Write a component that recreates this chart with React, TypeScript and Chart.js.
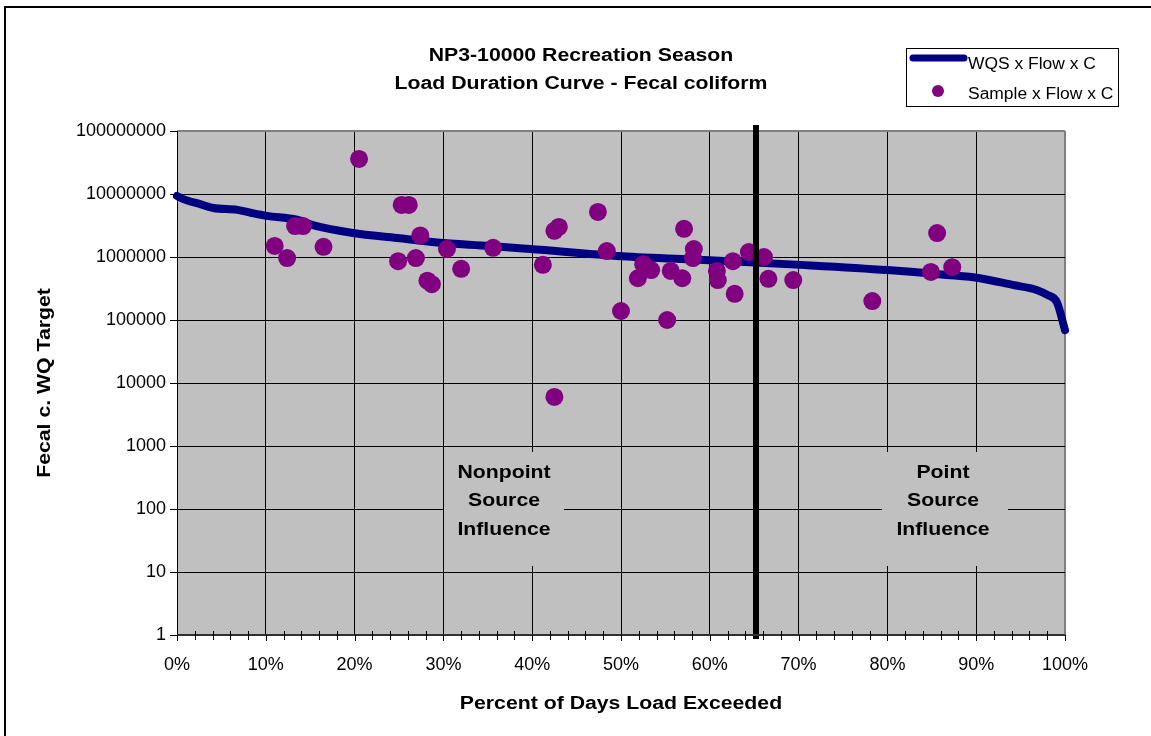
import { useEffect, useRef } from 'react';
import { Chart, registerables } from 'chart.js';

Chart.register(...registerables);

// WQS x Flow x C curve (percent of days exceeded, load)
const curvePct = [0, 0.7, 2.6, 4.1, 6.8, 8.4, 10.1, 13.5, 15.3, 19.8, 24.8, 29.3, 35.2, 39.8, 50.1, 60, 70.2, 80, 86.7, 90.4, 94.1, 96.8, 98, 99.1, 100];
const curveLoad = [9.3e6, 8.3e6, 6.9e6, 6.0e6, 5.6e6, 5.0e6, 4.5e6, 3.9e6, 3.2e6, 2.4e6, 2.0e6, 1.7e6, 1.5e6, 1.34e6, 1.03e6, 8.9e5, 7.5e5, 6.2e5, 5.2e5, 4.6e5, 3.6e5, 3.0e5, 2.5e5, 1.9e5, 6.9e4];

// Sample x Flow x C points
const samplePct = [11.0, 12.4, 13.3, 14.2, 16.5, 20.5, 24.9, 25.3, 26.1, 26.9, 27.4, 28.2, 28.7, 30.4, 32.0, 35.6, 41.2, 42.5, 43.0, 42.5, 47.4, 48.4, 50.0, 51.9, 52.5, 53.4, 55.2, 55.6, 56.9, 57.1, 58.1, 58.2, 60.8, 60.9, 62.6, 62.8, 64.4, 66.1, 66.6, 69.4, 78.3, 84.9, 85.6, 87.3];
const sampleLoad = [1.5e6, 9.6e5, 3.1e6, 3.1e6, 1.45e6, 3.6e7, 8.6e5, 6.7e6, 6.7e6, 9.6e5, 2.2e6, 4.2e5, 3.7e5, 1.34e6, 6.5e5, 1.4e6, 7.5e5, 2.6e6, 3.0e6, 6.0e3, 5.2e6, 1.24e6, 1.39e5, 4.6e5, 7.7e5, 6.2e5, 1.0e5, 6.0e5, 4.6e5, 2.8e6, 9.6e5, 1.34e6, 6.0e5, 4.3e5, 8.6e5, 2.6e5, 1.2e6, 1.0e6, 4.5e5, 4.3e5, 2.0e5, 5.8e5, 2.4e6, 6.9e5];

const yTickValues = [1, 10, 100, 1000, 10000, 100000, 1000000, 10000000, 100000000];
const xTickValues = [0, 10, 20, 30, 40, 50, 60, 70, 80, 90, 100];
const dividerPct = 65.2;

const titleLines = ['NP3-10000 Recreation Season', 'Load Duration Curve - Fecal coliform'];
const legendLabels = ['WQS x Flow x C', 'Sample x Flow x C'];
const xTitle = 'Percent of Days Load Exceeded';
const yTitle = 'Fecal c. WQ Target';
const nonpointLines = ['Nonpoint', 'Source', 'Influence'];
const pointLines = ['Point', 'Source', 'Influence'];

const FONT = '"Liberation Sans", Arial, Helvetica, sans-serif';
const LINE_COLOR = '#000080';
const DOT_COLOR = '#800080';
const PLOT_BG = '#C0C0C0';

function drawText(
  ctx: CanvasRenderingContext2D,
  text: string,
  x: number,
  y: number,
  font: string,
  sx: number,
  align: CanvasTextAlign = 'center',
  rot = 0,
) {
  ctx.save();
  ctx.translate(x, y);
  if (rot) ctx.rotate(rot);
  ctx.scale(sx, 1);
  ctx.font = font;
  ctx.textAlign = align;
  ctx.textBaseline = 'middle';
  ctx.fillStyle = '#000';
  ctx.fillText(text, 0, 0);
  ctx.restore();
}

const decorPlugin = {
  id: 'decor',
  beforeDraw(chart: any) {
    const { ctx, chartArea } = chart;
    const { left, top, right, bottom } = chartArea;
    ctx.save();
    ctx.fillStyle = '#fff';
    ctx.fillRect(0, 0, chart.width, chart.height);
    ctx.fillStyle = PLOT_BG;
    ctx.fillRect(left, top, right - left, bottom - top);
    // outer frame (left and top edges)
    ctx.strokeStyle = '#000';
    ctx.lineWidth = 2;
    ctx.beginPath();
    ctx.moveTo(5, chart.height + 2);
    ctx.lineTo(5, 7);
    ctx.lineTo(chart.width + 2, 7);
    ctx.stroke();
    ctx.restore();
  },
  beforeDatasetsDraw(chart: any) {
    const { ctx, chartArea } = chart;
    const { left, top } = chartArea;
    ctx.save();
    ctx.fillStyle = PLOT_BG;
    const boxTop = top + 321;
    const boxH = 114;
    ctx.fillRect(left + 267, boxTop, 120, boxH);
    ctx.fillRect(left + 705, boxTop, 126, boxH);
    const f = 'bold 18px ' + FONT;
    nonpointLines.forEach((t, i) => drawText(ctx, t, left + 327, top + 342 + i * 28.5, f, 1.18));
    pointLines.forEach((t, i) => drawText(ctx, t, left + 766, top + 342 + i * 28.5, f, 1.18));
    ctx.restore();
  },
  afterDatasetsDraw(chart: any) {
    const { ctx, chartArea, scales } = chart;
    const x = scales.x.getPixelForValue(dividerPct);
    ctx.save();
    ctx.fillStyle = '#000';
    ctx.fillRect(Math.round(x) - 3, chartArea.top - 6, 6, chartArea.bottom - chartArea.top + 10);
    ctx.restore();
  },
  afterDraw(chart: any) {
    const { ctx, chartArea, scales } = chart;
    const { left, top, right, bottom } = chartArea;
    ctx.save();
    // left axis
    ctx.strokeStyle = '#000';
    ctx.lineWidth = 1;
    ctx.beginPath();
    ctx.moveTo(left + 0.5, top);
    ctx.lineTo(left + 0.5, bottom);
    ctx.stroke();
    yTickValues.forEach((v) => {
      const y = Math.round(scales.y.getPixelForValue(v)) + 0.5;
      ctx.beginPath();
      ctx.moveTo(left - 7, y);
      ctx.lineTo(left, y);
      ctx.stroke();
    });
    // bottom axis
    ctx.strokeStyle = '#303030';
    ctx.lineWidth = 2;
    ctx.beginPath();
    ctx.moveTo(left, bottom);
    ctx.lineTo(right, bottom);
    ctx.stroke();
    ctx.strokeStyle = '#000';
    ctx.lineWidth = 1;
    for (let p = 0; p <= 100; p += 2) {
      const x = Math.round(scales.x.getPixelForValue(p)) + 0.5;
      ctx.beginPath();
      if (p % 10 === 0) {
        ctx.moveTo(x, bottom);
        ctx.lineTo(x, bottom + 6);
      } else {
        ctx.moveTo(x, bottom - 4);
        ctx.lineTo(x, bottom + 5);
      }
      ctx.stroke();
    }
    // titles
    const tf = 'bold 18px ' + FONT;
    drawText(ctx, titleLines[0], 581, 56, tf, 1.18);
    drawText(ctx, titleLines[1], 581, 84, tf, 1.18);
    drawText(ctx, xTitle, (left + right) / 2, 704, tf, 1.18);
    drawText(ctx, yTitle, 45, (top + bottom) / 2, tf, 1.18, 'center', -Math.PI / 2);
    // legend
    ctx.fillStyle = '#fff';
    ctx.fillRect(906, 48, 212, 58);
    ctx.strokeStyle = '#000';
    ctx.lineWidth = 1;
    ctx.strokeRect(906.5, 48.5, 212, 58);
    ctx.strokeStyle = LINE_COLOR;
    ctx.lineWidth = 7;
    ctx.lineCap = 'round';
    ctx.beginPath();
    ctx.moveTo(913, 58);
    ctx.lineTo(964, 58);
    ctx.stroke();
    ctx.fillStyle = DOT_COLOR;
    ctx.beginPath();
    ctx.arc(938, 91, 6, 0, Math.PI * 2);
    ctx.fill();
    const lf = '16px ' + FONT;
    drawText(ctx, legendLabels[0], 968, 65, lf, 1.09, 'left');
    drawText(ctx, legendLabels[1], 968, 95, lf, 1.09, 'left');
    ctx.restore();
  },
};

export default function App() {
  const ref = useRef<HTMLCanvasElement | null>(null);

  useEffect(() => {
    if (!ref.current) return;
    const edgeColor = (v: number, edge: number) => (v === edge ? '#808080' : '#000');
    const chart = new Chart(ref.current, {
      type: 'scatter',
      data: {
        datasets: [
          {
            label: legendLabels[1],
            data: samplePct.map((p, i) => ({ x: p, y: sampleLoad[i] })),
            backgroundColor: DOT_COLOR,
            borderWidth: 0,
            pointRadius: 9,
            pointHoverRadius: 9,
            clip: false,
            order: 0,
          },
          {
            label: legendLabels[0],
            data: curvePct.map((p, i) => ({ x: p, y: curveLoad[i] })),
            showLine: true,
            borderColor: LINE_COLOR,
            borderWidth: 8,
            borderCapStyle: 'round',
            borderJoinStyle: 'round',
            pointRadius: 0,
            cubicInterpolationMode: 'monotone',
            clip: false,
            order: 1,
          } as any,
        ],
      },
      options: {
        responsive: false,
        animation: false,
        events: [],
        layout: { padding: { left: 0, top: 131, right: 86, bottom: 0 } },
        plugins: {
          legend: { display: false },
          title: { display: false },
          tooltip: { enabled: false },
        },
        scales: {
          x: {
            type: 'linear',
            min: 0,
            max: 100,
            afterBuildTicks: (s: any) => {
              s.ticks = xTickValues.map((v) => ({ value: v }));
            },
            afterFit: (s: any) => {
              s.height = 101;
            },
            ticks: {
              callback: (v: any) => v + '%',
              font: { family: FONT, size: 18 },
              color: '#000',
              padding: 19,
              maxRotation: 0,
            },
            grid: {
              drawTicks: false,
              color: (c: any) => edgeColor(c.tick?.value, 100),
              lineWidth: (c: any) => (c.tick?.value === 100 ? 2 : 1),
            },
            border: { display: false },
          },
          y: {
            type: 'logarithmic',
            min: 1,
            max: 100000000,
            afterBuildTicks: (s: any) => {
              s.ticks = yTickValues.map((v) => ({ value: v }));
            },
            afterFit: (s: any) => {
              s.width = 177;
            },
            ticks: {
              callback: (v: any) => String(v),
              font: { family: FONT, size: 18 },
              color: '#000',
              padding: 11,
            },
            grid: {
              drawTicks: false,
              color: (c: any) => edgeColor(c.tick?.value, 100000000),
              lineWidth: (c: any) => (c.tick?.value === 100000000 ? 2 : 1),
            },
            border: { display: false },
          },
        },
      } as any,
      plugins: [decorPlugin],
    });
    return () => chart.destroy();
  }, []);

  return (
    <div style={{ position: 'fixed', left: 0, top: 0, width: 1151, height: 736, background: '#fff' }}>
      <canvas ref={ref} width={1151} height={736} style={{ display: 'block', width: 1151, height: 736 }} />
    </div>
  );
}
